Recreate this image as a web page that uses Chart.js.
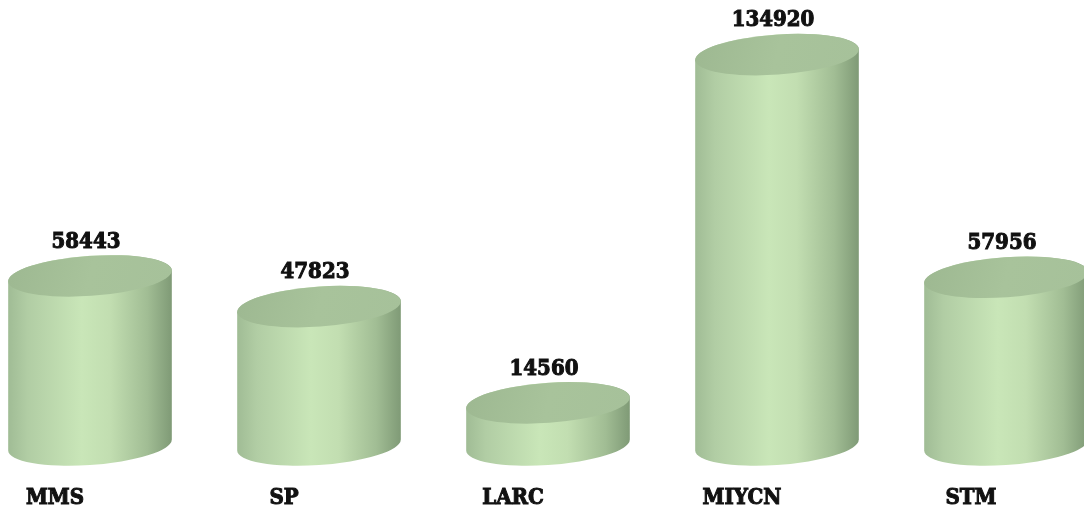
<!DOCTYPE html>
<html>
<head>
<meta charset="utf-8">
<script src="https://cdn.jsdelivr.net/npm/chart.js@4.4.1/dist/chart.umd.min.js"></script>
<style>
  html, body { margin: 0; padding: 0; background: #ffffff; }
  #wrap { width: 1084px; height: 513px; }
</style>
</head>
<body>
<div id="wrap"><canvas id="myChart"></canvas></div>
<script>
// Data
const categories = ["MMS", "SP", "LARC", "MIYCN", "STM"];
const values = [58443, 47823, 14560, 134920, 57956];

var labelFont = "'DejaVu Serif Condensed', 'DejaVu Serif', serif";

// Cylinders drawn from the bar elements
const cylinderPlugin = {
  id: "cylinders",
  afterDatasetsDraw(chart) {
    const ctx = chart.ctx;
    const meta = chart.getDatasetMeta(0);
    const rot = -0.07;
    meta.data.forEach((bar, i) => {
      let cx = bar.x;
      let rx = bar.width / 2;
      let ry = 20;
      let top = bar.y;
      let base = bar.base;

      // parametric angles of the leftmost / rightmost points
      let tR = Math.atan2(-ry * Math.sin(rot), rx * Math.cos(rot));
      let tL = tR + Math.PI;

      let grad = ctx.createLinearGradient(cx - rx, 0, cx + rx, 0);
      grad.addColorStop(0, "#a0bc95");
      grad.addColorStop(0.12, "#b1cda4");
      grad.addColorStop(0.45, "#c9e6b8");
      grad.addColorStop(0.62, "#c2deb1");
      grad.addColorStop(0.85, "#a1bd94");
      grad.addColorStop(1, "#7f9a76");

      ctx.save();
      ctx.beginPath();
      ctx.ellipse(cx, base, rx, ry, rot, tR, tL, false);
      ctx.ellipse(cx, top, rx, ry, rot, tL, tR, false);
      ctx.closePath();
      ctx.fillStyle = grad;
      ctx.fill();

      let tg = ctx.createLinearGradient(cx - rx, top - ry, cx + rx, top + ry);
      tg.addColorStop(0, "#9db891");
      tg.addColorStop(0.5, "#a8c39b");
      tg.addColorStop(1, "#a6c19a");
      ctx.beginPath();
      ctx.ellipse(cx, top, rx, ry, rot, 0, Math.PI * 2);
      ctx.fillStyle = tg;
      ctx.fill();

      // value label
      ctx.fillStyle = "#111111";
      ctx.strokeStyle = "#111111";
      ctx.lineWidth = 1;
      ctx.font = "bold 22px " + labelFont;
      ctx.textAlign = "center";
      ctx.textBaseline = "middle";
      ctx.fillText(String(values[i]), cx - 4, top - 34);
      ctx.strokeText(String(values[i]), cx - 4, top - 34);
      ctx.restore();
    });
  }
};

const ctx = document.getElementById("myChart").getContext("2d");
const myChart = new Chart(ctx, {
  type: "bar",
  data: {
    labels: categories,
    datasets: [{
      data: values,
      backgroundColor: "rgba(0,0,0,0)",
      borderWidth: 0,
      barThickness: 164
    }]
  },
  options: {
    responsive: true,
    maintainAspectRatio: false,
    animation: false,
    layout: { padding: { top: 11, bottom: 0, left: 90, right: 78 } },
    plugins: {
      legend: { display: false },
      tooltip: { enabled: false }
    },
    scales: {
      x: {
        offset: false,
        grid: { display: false },
        border: { display: false },
        afterFit: function (scale) { scale.height = 68; },
        ticks: {
          color: "#111111",
          font: { family: labelFont, size: 22, weight: "bold" },
          textStrokeColor: "#111111",
          textStrokeWidth: 1,
          labelOffset: -35,
          padding: 32,
          maxRotation: 0,
          autoSkip: false
        }
      },
      y: {
        display: false,
        min: 0,
        max: 150000
      }
    }
  },
  plugins: [cylinderPlugin]
});
</script>
</body>
</html>
